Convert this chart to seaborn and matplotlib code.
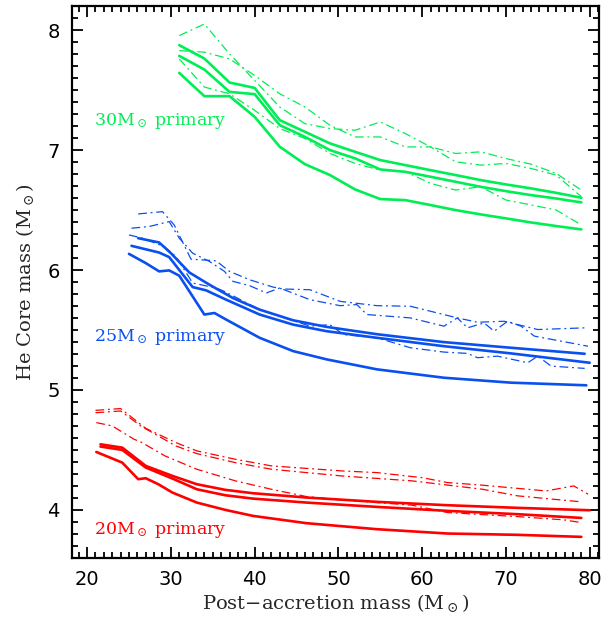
import matplotlib
matplotlib.use("Agg")
import matplotlib.pyplot as plt
from matplotlib.ticker import MultipleLocator
import pandas as pd
import seaborn as sns

# ---- 30 Msun primary (green) ----
g_x = [31, 34, 37, 40, 43, 46, 49, 52, 55, 58, 61, 64, 67, 70, 73, 76, 79]
g_solid_1 = [7.875, 7.764, 7.564, 7.519, 7.25, 7.153, 7.056, 6.986, 6.917, 6.875,
             6.833, 6.792, 6.75, 6.714, 6.681, 6.644, 6.603]
g_solid_2 = [7.786, 7.672, 7.486, 7.467, 7.208, 7.111, 7.0, 6.931, 6.839, 6.819,
             6.778, 6.736, 6.694, 6.658, 6.625, 6.597, 6.564]
g_solid_3 = [7.644, 7.45, 7.45, 7.278, 7.028, 6.883, 6.792, 6.672, 6.592, 6.583,
             6.542, 6.5, 6.464, 6.431, 6.397, 6.367, 6.339]
g_dash_1 = [7.955, 8.052, 7.803, 7.581, 7.360, 7.221, 7.180, 7.166, 7.235, 7.138,
            7.027, 6.972, 6.986, 6.930, 6.883, 6.806, 6.667]
g_dash_2 = [7.830, 7.817, 7.761, 7.623, 7.470, 7.360, 7.207, 7.110, 7.110, 7.027,
            7.027, 6.903, 6.875, 6.889, 6.847, 6.792, 6.612]
g_dash_3 = [7.761, 7.526, 7.470, 7.332, 7.180, 7.097, 6.972, 6.889, 6.833, 6.820,
            6.723, 6.667, 6.695, 6.584, 6.543, 6.501, 6.376]

# ---- 25 Msun primary (blue) ----
b_solid_1_x = [26.1, 28.6, 30.0, 32.2, 34.6, 37.4, 40.6, 44.6, 48.6, 54.6, 62.6, 70.6, 79.4]
b_solid_1 = [6.266, 6.230, 6.141, 5.980, 5.878, 5.767, 5.670, 5.581, 5.526, 5.465,
             5.399, 5.352, 5.302]
b_solid_2_x = [25.3, 28.6, 29.8, 32.6, 34.2, 36.6, 40.6, 44.6, 48.6, 54.6, 62.6, 70.6, 80.0]
b_solid_2 = [6.202, 6.146, 6.108, 5.858, 5.831, 5.753, 5.629, 5.545, 5.490, 5.435,
             5.365, 5.305, 5.227]
b_solid_3_x = [25.0, 27.0, 28.6, 29.8, 31.0, 34.0, 35.2, 36.6, 40.6, 44.6, 48.6, 54.6,
               62.6, 70.6, 79.6]
b_solid_3 = [6.135, 6.058, 5.989, 5.997, 5.953, 5.629, 5.642, 5.587, 5.435, 5.324,
             5.255, 5.172, 5.102, 5.061, 5.039]
b_dash_1_x = [26.1, 29.0, 30.4, 32.4, 35.4, 37.0, 39.4, 42.2, 43.4, 46.6, 50.2, 54.6,
              58.6, 64.2, 66.6, 69.8, 73.8, 79.4]
b_dash_1 = [6.468, 6.487, 6.376, 6.091, 6.077, 5.989, 5.919, 5.858, 5.842, 5.836,
            5.739, 5.703, 5.698, 5.601, 5.565, 5.573, 5.504, 5.518]
b_dash_2_x = [25.3, 27.4, 29.8, 31.0, 32.6, 34.6, 36.4, 37.4, 39.4, 41.4, 43.0, 46.6,
              50.2, 52.2, 53.4, 58.6, 62.6, 64.2, 65.4, 67.4, 68.6, 70.2, 71.8, 73.4, 79.8]
b_dash_2 = [6.349, 6.363, 6.404, 6.266, 6.141, 6.072, 5.989, 5.906, 5.870, 5.809,
            5.850, 5.753, 5.703, 5.712, 5.629, 5.601, 5.532, 5.601, 5.518, 5.559,
            5.490, 5.573, 5.532, 5.449, 5.365]
b_dash_3_x = [25.0, 26.6, 29.2, 30.6, 32.6, 35.4, 36.4, 40.6, 46.6, 49.0, 50.6, 54.6,
              58.6, 62.6, 65.4, 66.6, 69.0, 72.6, 73.8, 75.4, 79.4]
b_dash_3 = [6.293, 6.266, 6.196, 6.113, 5.892, 5.850, 5.822, 5.670, 5.532, 5.545,
            5.462, 5.435, 5.352, 5.316, 5.305, 5.269, 5.282, 5.227, 5.282, 5.199, 5.180]

# ---- 20 Msun primary (red) ----
r_solid_1_x = [21.6, 24.2, 27.0, 30.2, 33.1, 36.5, 39.8, 46.2, 54.6, 63.0, 71.4, 80.0]
r_solid_1 = [4.547, 4.519, 4.367, 4.283, 4.214, 4.167, 4.139, 4.103, 4.067, 4.039,
             4.017, 3.997]
r_solid_2_x = [21.6, 24.2, 27.0, 30.2, 33.1, 36.5, 39.8, 46.2, 54.6, 63.0, 71.4, 79.0]
r_solid_2 = [4.528, 4.50, 4.353, 4.261, 4.172, 4.122, 4.094, 4.061, 4.025, 3.992,
             3.964, 3.933]
r_solid_3_x = [21.1, 24.2, 26.1, 27.0, 28.5, 30.2, 33.1, 36.5, 39.8, 46.2, 54.6, 63.0,
               71.4, 79.0]
r_solid_3 = [4.483, 4.394, 4.256, 4.264, 4.214, 4.144, 4.061, 4.0, 3.95, 3.889, 3.839,
             3.803, 3.792, 3.775]
r_dash_1_x = [21, 24, 27, 30.6, 33.1, 37.7, 42.0, 50.4, 54.6, 58.8, 60.0, 63.0, 67.2,
              74.8, 78.1, 79.8]
r_dash_1 = [4.83, 4.845, 4.68, 4.561, 4.492, 4.422, 4.367, 4.325, 4.311, 4.278, 4.269,
            4.228, 4.206, 4.158, 4.20, 4.131]
r_dash_2_x = [21, 24, 26.4, 30.6, 33.1, 37.7, 42.0, 50.4, 58.8, 67.2, 71.4, 79.0]
r_dash_2 = [4.81, 4.825, 4.70, 4.533, 4.469, 4.394, 4.339, 4.283, 4.242, 4.172, 4.117,
            4.067]
r_dash_3_x = [21.1, 23.0, 25.6, 26.4, 29.3, 33.1, 37.7, 42.0, 46.2, 50.4, 54.6, 58.8,
              63.0, 71.4, 76.9, 79.0]
r_dash_3 = [4.728, 4.70, 4.589, 4.567, 4.45, 4.339, 4.242, 4.172, 4.111, 4.083, 4.061,
            4.039, 3.978, 3.944, 3.917, 3.894]

GREEN = "#00ee55"
BLUE = "#0a4ff0"
RED = "#ff0000"

tracks = [
    (g_x, g_solid_1, GREEN, "solid"), (g_x, g_solid_2, GREEN, "solid"),
    (g_x, g_solid_3, GREEN, "solid"), (g_x, g_dash_1, GREEN, "dashdot"),
    (g_x, g_dash_2, GREEN, "dashdot"), (g_x, g_dash_3, GREEN, "dashdot"),
    (b_solid_1_x, b_solid_1, BLUE, "solid"), (b_solid_2_x, b_solid_2, BLUE, "solid"),
    (b_solid_3_x, b_solid_3, BLUE, "solid"), (b_dash_1_x, b_dash_1, BLUE, "dashdot"),
    (b_dash_2_x, b_dash_2, BLUE, "dashdot"), (b_dash_3_x, b_dash_3, BLUE, "dashdot"),
    (r_solid_1_x, r_solid_1, RED, "solid"), (r_solid_2_x, r_solid_2, RED, "solid"),
    (r_solid_3_x, r_solid_3, RED, "solid"), (r_dash_1_x, r_dash_1, RED, "dashdot"),
    (r_dash_2_x, r_dash_2, RED, "dashdot"), (r_dash_3_x, r_dash_3, RED, "dashdot"),
]

sns.set_style("ticks")
plt.rcParams["font.family"] = ["DejaVu Serif"]
plt.rcParams["mathtext.fontset"] = "dejavuserif"

fig = plt.figure(figsize=(6.13, 6.24), dpi=100)
ax = fig.add_axes([0.1175, 0.106, 0.8595, 0.884])

for xs, ys, color, style in tracks:
    df = pd.DataFrame({"mass": xs, "core": ys})
    if style == "solid":
        sns.lineplot(data=df, x="mass", y="core", ax=ax, color=color, lw=1.9,
                     sort=False, estimator=None)
    else:
        line = sns.lineplot(data=df, x="mass", y="core", ax=ax, color=color, lw=0.9,
                            sort=False, estimator=None).lines[-1]
        line.set_dashes((7, 3, 1.5, 3))

ax.set_xlim(18.2, 81.1)
ax.set_ylim(3.6, 8.2)
ax.xaxis.set_major_locator(MultipleLocator(10))
ax.xaxis.set_minor_locator(MultipleLocator(1))
ax.yaxis.set_major_locator(MultipleLocator(1))
ax.yaxis.set_minor_locator(MultipleLocator(0.1))
ax.tick_params(which="both", direction="in", top=True, right=True,
               labelsize=14, width=1.3, colors="black")
ax.tick_params(which="major", length=8, pad=9)
ax.tick_params(which="minor", length=4)
for lab in ax.get_xticklabels() + ax.get_yticklabels():
    lab.set_family("DejaVu Sans")
for s in ax.spines.values():
    s.set_linewidth(1.6)
    s.set_color("black")

ax.set_xlabel(r"Post$-$accretion mass (M$_\odot$)", fontsize=14, labelpad=2)
ax.set_ylabel(r"He Core mass (M$_\odot$)", fontsize=14, labelpad=8)

ax.text(20.8, 7.24, r"30M$_\odot$ primary", color=GREEN, fontsize=12.5, va="center")
ax.text(20.8, 5.44, r"25M$_\odot$ primary", color=BLUE, fontsize=12.5, va="center")
ax.text(20.8, 3.83, r"20M$_\odot$ primary", color=RED, fontsize=12.5, va="center")

fig.savefig("out.png", dpi=100)
